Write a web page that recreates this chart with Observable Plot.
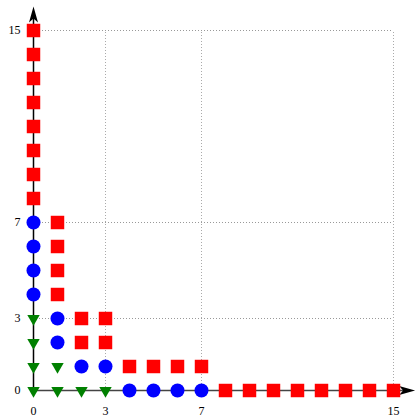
<!DOCTYPE html>
<html>
<head>
<meta charset="utf-8">
<script src="https://cdn.jsdelivr.net/npm/d3@7"></script>
<script src="https://cdn.jsdelivr.net/npm/@observablehq/plot@0.6"></script>
<style>
  html, body { margin: 0; padding: 0; background: #fff; }
</style>
</head>
<body>
<div id="chart"></div>
<script>
// Tick labels / grid positions
const tickValues = [0, 3, 7, 15];
const gridValues = [3, 7, 15];

// Series (x, y) pairs
const greenTriangles = [[0,0],[1,0],[2,0],[3,0],[0,1],[1,1],[0,2],[0,3]];
const blueCircles = [[0,4],[0,5],[0,6],[0,7],[1,2],[1,3],[2,1],[3,1],[4,0],[5,0],[6,0],[7,0]];
const redSquares = [
  [0,8],[0,9],[0,10],[0,11],[0,12],[0,13],[0,14],[0,15],
  [1,4],[1,5],[1,6],[1,7],
  [2,2],[3,2],[2,3],[3,3],
  [4,1],[5,1],[6,1],[7,1],
  [8,0],[9,0],[10,0],[11,0],[12,0],[13,0],[14,0],[15,0]
];

// Axis extents (arrow tips)
const xAxisEnd = 15.9;
const yAxisEnd = 16;

const stealth = {
  draw(ctx) {
    ctx.moveTo(0, 0);
    ctx.lineTo(4.5, 16);
    ctx.lineTo(0, 12);
    ctx.lineTo(-4.5, 16);
    ctx.closePath();
  }
};

const chart = Plot.plot({
  width: 418,
  height: 419,
  marginLeft: 33,
  marginRight: 25,
  marginTop: 30,
  marginBottom: 29,
  x: {domain: [0, 15]},
  y: {domain: [0, 15]},
  style: {fontFamily: "Liberation Serif", fontSize: "12px", color: "black", background: "white"},
  marks: [
    Plot.ruleX(gridValues, {y1: 0, y2: 15, stroke: "#aaa", strokeDasharray: "1,2", strokeWidth: 1}),
    Plot.ruleY(gridValues, {x1: 0, x2: 15, stroke: "#999", strokeDasharray: "1,2", strokeWidth: 1}),
    Plot.ruleY([0], {x1: 0, x2: xAxisEnd - 0.3, stroke: "#444", strokeWidth: 1.5}),
    Plot.ruleX([0], {y1: 0, y2: yAxisEnd - 0.3, stroke: "black", strokeWidth: 1.5}),
    Plot.dot([[xAxisEnd, 0]], {x: d => d[0], y: d => d[1], symbol: stealth, rotate: 90, fill: "black", stroke: "none"}),
    Plot.dot([[0, yAxisEnd]], {x: d => d[0], y: d => d[1], symbol: stealth, rotate: 0, fill: "black", stroke: "none"}),
    Plot.axisX({ticks: tickValues, tickSize: 0, tickPadding: 16, fontSize: 12, tickFormat: d => String(d)}),
    Plot.axisY({ticks: tickValues, tickSize: 0, tickPadding: 13, fontSize: 12, tickFormat: d => String(d)}),
    Plot.dot(greenTriangles, {x: d => d[0], y: d => d[1], symbol: "triangle", rotate: 180, r: 4.6, fill: "#008000", stroke: "none"}),
    Plot.dot(blueCircles, {x: d => d[0], y: d => d[1], symbol: "circle", r: 7, fill: "#0000ff", stroke: "none"}),
    Plot.dot(redSquares, {x: d => d[0], y: d => d[1], symbol: "square", r: 7.6, fill: "#ff0000", stroke: "none"})
  ]
});
document.getElementById("chart").appendChild(chart);
</script>
</body>
</html>
